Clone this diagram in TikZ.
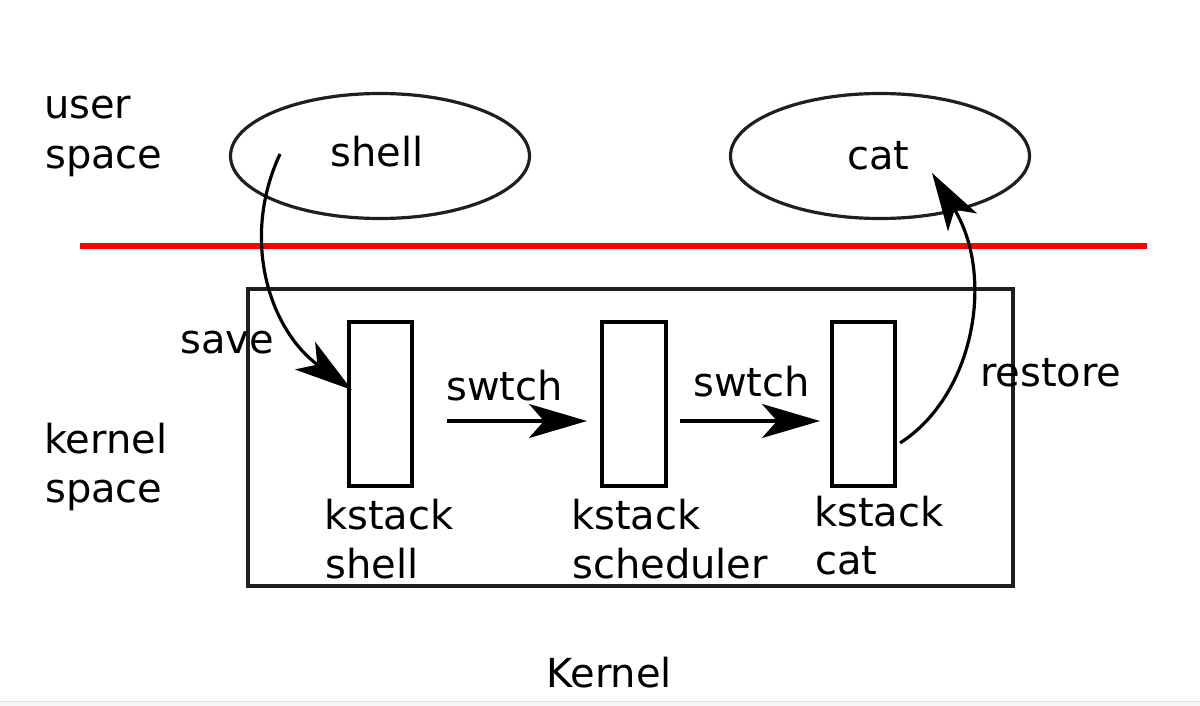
\documentclass[tikz,border=0pt]{standalone}
\usepackage{fontspec}
\setmainfont{DejaVu Sans}
\usetikzlibrary{arrows.meta,shapes.geometric}
\begin{document}
\begin{tikzpicture}[x=1pt,y=-1pt,
  lbl/.style={anchor=base west, inner sep=0pt, font=\fontsize{40}{50}\selectfont},
  ell/.style={draw=black!88, line width=3.2pt, ellipse, minimum width=299pt, minimum height=125pt, inner sep=0pt},
  stk/.style={draw, line width=4.2pt, minimum width=63pt, minimum height=164pt, inner sep=0pt, anchor=north west},
  arr/.style={line width=3.2pt, -{Stealth[length=58pt,width=34pt,inset=15pt]}}]
\useasboundingbox (0,0) rectangle (1200,706);
\fill[white] (0,0) rectangle (1200,706);
\fill[gray!7] (0,701) rectangle (1200,706);
\draw[gray!25, line width=1pt] (0,701) -- (1200,701);

% user space ellipses
\node[ell] (eshell) at (380,156) {};
\node[ell] (ecat) at (880,156) {};

% boundary
\draw[red, line width=6pt] (80,246) -- (1147,246);

% kernel box and stacks
\node[draw=black!88, line width=3.8pt, minimum width=765pt, minimum height=297pt, inner sep=0pt, anchor=north west] (kbox) at (246,287) {};
\node[stk] (k1) at (347,320) {};
\node[stk, minimum width=64pt] (k2) at (600,320) {};
\node[stk] (k3) at (830,320) {};

% texts
\node[lbl] (t1) at (44,119) {user};
\node[lbl] (t2) at (45,169) {space};
\node[lbl] (t3) at (44,453) {kernel};
\node[lbl] (t4) at (45,502) {space};
\node[lbl] (tshell) at (330,167) {shell};
\node[lbl] (tcat) at (847,170) {cat};
\node[lbl] (tsave) at (180,353) {save};
\node[lbl] (tsw1) at (446,400) {swtch};
\node[lbl] (tsw2) at (693,396) {swtch};
\node[lbl] (trest) at (980,386) {restore};
\node[lbl] (l1a) at (324,529) {kstack};
\node[lbl] (l1b) at (325,578) {shell};
\node[lbl] (l2a) at (571,529) {kstack};
\node[lbl] (l2b) at (572,578) {scheduler};
\node[lbl] (l3a) at (814,526) {kstack};
\node[lbl] (l3b) at (815,574) {cat};
\node[lbl] (tkernel) at (546,687) {Kernel};

% connectors
\coordinate (s0) at (280,154);
\coordinate (s1) at (352,390);
\draw[arr] (s0) .. controls (240,240) and (270,330) .. (s1);

\coordinate (w1a) at (447,421);
\coordinate (w1b) at (587,421);
\draw[arr] (w1a) -- (w1b);

\coordinate (w2a) at (680,421);
\coordinate (w2b) at (820,421);
\draw[arr] (w2a) -- (w2b);

\coordinate (r0) at (900,443);
\coordinate (r1) at (932,173);
\draw[arr] (r0) .. controls (975,395) and (995,275) .. (r1);
\end{tikzpicture}
\end{document}
